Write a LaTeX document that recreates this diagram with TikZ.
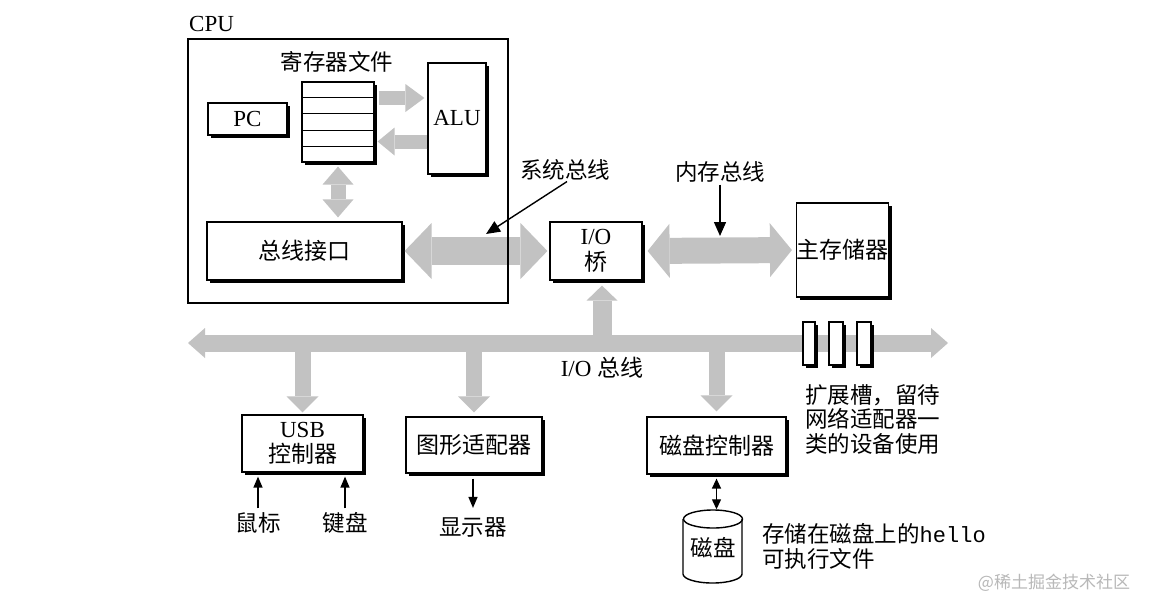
\documentclass[tikz,border=0pt]{standalone}
\usepackage{fontspec}
\setmainfont{Liberation Serif}
\newfontfamily\cjk{Noto Sans CJK SC}
\newfontfamily\monof{Liberation Mono}
\usetikzlibrary{arrows.meta,shadows,calc}
\definecolor{busgray}{HTML}{C2C2C2}
\newcommand\zh[1]{{\cjk #1}}
\tikzset{
  box/.style={draw, line width=1.2pt, fill=white, inner sep=0pt,
    font=\fontsize{23}{27}\selectfont, align=center,
    general shadow={fill=black, shadow xshift=3pt, shadow yshift=-3pt}},
  txt/.style={inner sep=0pt, font=\fontsize{23}{27}\selectfont},
  zhtxt/.style={inner sep=0pt, font=\cjk\fontsize{22.5}{24.5}\selectfont},
  fatdbl/.style n args={3}{draw=busgray, line width=#1,
    {Triangle[width=#2,length=#3,line width=0pt]}-{Triangle[width=#2,length=#3,line width=0pt]}},
  fatone/.style n args={3}{draw=busgray, line width=#1,
    -{Triangle[width=#2,length=#3,line width=0pt]}},
  thinarrow/.style={draw, line width=1.3pt, -{Triangle[length=11pt,width=9pt]}},
  bigarrow/.style={draw, line width=1.4pt, -{Triangle[length=14pt,width=12pt]}},
  thindbl/.style={draw, line width=1.3pt, {Triangle[length=10pt,width=9pt]}-{Triangle[length=10pt,width=9pt]}},
}
\begin{document}
\begin{tikzpicture}[x=1pt,y=-1pt]
\useasboundingbox[fill=white] (0,0) rectangle (1156,611);

% coordinates of the I/O bus
\coordinate (busL) at (188,343);
\coordinate (busR) at (948,343);

% ---- boxes (positions) ----
\node[box, minimum width=72pt, minimum height=80pt] (regs) at (338,122) {};
\node[box, minimum width=79pt, minimum height=32pt] (pc) at (247.5,119) {PC};
\node[box, minimum width=58pt, minimum height=111pt] (alu) at (457,118.5) {ALU};
\node[box, minimum width=195pt, minimum height=58pt] (bi) at (304.5,251) {\zh{总线接口}};
\node[box, minimum width=92pt, minimum height=58pt] (io) at (596,251) {I/O\\[-1pt]\zh{桥}};
\node[box, minimum width=91pt, minimum height=94pt] (mem) at (842.5,250) {\zh{主存储器}};
\node[box, minimum width=121pt, minimum height=57pt] (usb) at (302.5,443.5) {USB\\[-2pt]\zh{控制器}};
\node[box, minimum width=136pt, minimum height=56pt] (gfx) at (474,445) {\zh{图形适配器}};
\node[box, minimum width=139pt, minimum height=57pt] (dc) at (716.5,445.5) {\zh{磁盘控制器}};

% register rows
\foreach \i in {1,...,4}
  \draw[line width=1.2pt] ($(regs.north west)!\i/5!(regs.south west)$) -- ($(regs.north east)!\i/5!(regs.south east)$);

% ---- fat gray buses ----
\draw[fatone={14pt}{28pt}{19pt}] ($(regs.east)+(4,-24)$) coordinate (ra1) -- ($(ra1 -| alu.west)+(-3,0)$);
\draw[fatone={14pt}{28pt}{17pt}] ($(alu.west)+(0,23)$) coordinate (ra2) -- ($(ra2 -| regs.east)+(3,0)$);
\draw[fatdbl={15pt}{31pt}{18pt}, shorten <=4pt, shorten >=4pt] (regs.south) -- (regs.south |- bi.north);
\draw[fatdbl={28pt}{56pt}{27pt}, shorten <=2pt, shorten >=2pt] (bi.east) -- (io.west);
\draw[fatdbl={26pt}{54pt}{22pt}, shorten <=5pt, shorten >=4pt] (io.east) -- (mem.west);

\coordinate (iob) at ($(io.south)+(6,0)$);
\draw[fatone={19pt}{31pt}{15pt}, shorten >=5pt] (busL -| iob) -- (iob);
\draw[fatone={16pt}{32pt}{16pt}, shorten >=2pt] (busL -| usb.north) -- (usb.north);
\draw[fatone={16pt}{32pt}{16pt}, shorten >=4pt] (busL -| gfx.north) -- (gfx.north);
\draw[fatone={16pt}{32pt}{16pt}, shorten >=5pt] (busL -| dc.north) -- (dc.north);
\draw[fatdbl={17pt}{30pt}{17pt}] (busL) -- (busR);

% expansion slots
\node[box, minimum width=12pt, minimum height=43pt] (s1) at (809,343.5) {};
\node[box, minimum width=14pt, minimum height=43pt] (s2) at (836,343.5) {};
\node[box, minimum width=14pt, minimum height=43pt] (s3) at (864,343.5) {};

% CPU frame (on top)
\node[draw, line width=2.8pt, minimum width=320pt, minimum height=264pt, inner sep=0pt] (cpu) at (348,171) {};
\node[txt, anchor=base west] (cpul) at (189,31) {CPU};
\node[zhtxt] (regl) at (337,62) {寄存器文件};

% labels
\node[zhtxt] (sysl) at (565,170) {系统总线};
\node[zhtxt] (meml) at (720,172) {内存总线};
\coordinate (sbpt) at (486,234);
\coordinate (mbpt) at (720,236);
\draw[bigarrow] ($(sysl.south)+(2,1)$) -- (sbpt);
\draw[bigarrow] ($(meml.south)+(0,2)$) -- (mbpt);

\node[txt] (iol) at (602,368) {I/O \zh{总线}};
\node[zhtxt, anchor=north west, align=left] (slotl) at (805,384) {扩展槽，留待\\网络适配器一\\类的设备使用};

% peripherals
\node[zhtxt] (mouse) at (258,523) {鼠标};
\node[zhtxt] (kbd) at (345,523) {键盘};
\node[zhtxt] (disp) at (473,527) {显示器};
\draw[thinarrow, shorten <=4pt, shorten >=4pt] (mouse.north) -- (mouse.north |- usb.south);
\draw[thinarrow, shorten <=4pt, shorten >=4pt] (kbd.north) -- (kbd.north |- usb.south);
\draw[thinarrow, shorten <=5pt, shorten >=9pt] (gfx.south -| disp.north) -- (disp.north);

% disk
\node[inner sep=0pt, minimum width=59pt, minimum height=73pt] (disk) at (713,548) {};
\draw[line width=1.4pt, fill=white] (683,519) -- (683,574) arc[start angle=180, end angle=0, x radius=29.5, y radius=9] -- (742,519);
\draw[line width=1.4pt] (713,519) ellipse[x radius=29.5, y radius=9];
\node[zhtxt] (disktxt) at (disk) {磁盘};
\draw[thindbl, shorten <=4pt, shorten >=2pt] (dc.south) -- (dc.south |- disk.north);

\node[zhtxt, anchor=north west, align=left, font=\cjk\fontsize{22.5}{25}\selectfont] (diskl) at (762,523) {存储在磁盘上的{\monof\fontsize{22}{25}\selectfont hello}\\可执行文件};

% watermark
\node[inner sep=0pt, text=black!28, font=\cjk\fontsize{17}{20}\selectfont] (wm) at (1054,583) {@稀土掘金技术社区};
\end{tikzpicture}
\end{document}
